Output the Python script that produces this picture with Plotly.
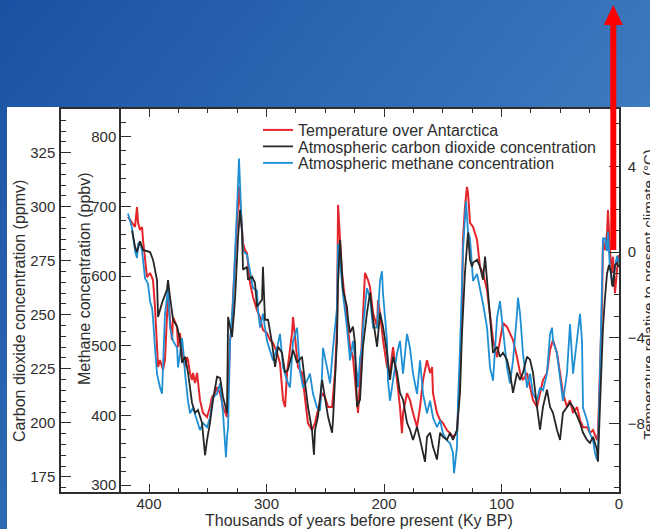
import base64
import plotly.graph_objects as go

# ---------------- data ----------------
temp_kyr = [417.9, 414.4, 411.9, 410.2, 409.3, 407.6, 405.9, 405.1, 403.4, 401.7, 399.1, 396.6, 394.9, 393.2,
            392.3, 390.6, 388.1, 386.4, 384.7, 383.8, 382.1, 380.4, 379.5, 376.1, 375.3, 373.6, 371.9, 369.3,
            367.6, 366.8, 365.1, 363.4, 362.5, 360.8, 359.1, 356.6, 354.0, 350.6, 348.1, 346.4, 343.8, 342.1,
            339.5, 337.0, 333.6, 331.0, 329.3, 328.5, 325.1, 324.2, 323.4, 321.7, 320.0, 318.3, 316.6, 314.0,
            311.5, 308.1, 305.5, 303.0, 299.6, 297.0, 294.4, 291.0, 288.5, 285.9, 284.2, 282.5, 280.0, 278.3,
            277.4, 275.7, 273.2, 269.8, 267.2, 264.7, 261.3, 258.7, 256.2, 252.7, 250.2, 247.6, 244.2, 241.7,
            240.0, 239.1, 237.4, 235.7, 233.2, 231.5, 228.9, 226.4, 223.0, 222.1, 220.4, 217.9, 216.2, 213.6,
            211.9, 209.3, 205.9, 205.1, 203.4, 200.8, 197.4, 194.9, 192.3, 188.9, 186.4, 184.7, 183.8, 180.4,
            177.9, 175.3, 171.9, 169.3, 166.8, 163.4, 160.8, 159.1, 158.3, 154.9, 152.3, 149.8, 146.4, 143.8,
            141.3, 137.9, 135.3, 133.6, 132.8, 131.1, 129.4, 128.5, 126.8, 124.2, 120.8, 118.3, 115.7, 112.3,
            109.8, 107.2, 103.8, 101.3, 99.6, 98.7, 95.3, 92.8, 90.2, 86.8, 84.2, 81.7, 78.3, 75.7, 73.2, 69.8,
            67.2, 64.7, 61.3, 58.7, 56.2, 52.8, 50.2, 47.7, 44.3, 41.7, 39.1, 35.7, 33.2, 30.6, 27.2, 24.7,
            22.1, 18.7, 17.9, 16.2, 14.5, 13.6, 11.9, 10.2, 9.4, 7.7, 6.0, 5.1, 3.4, 1.7, 0.4]
temp_c = [1.64, 1.36, 1.17, 2.10, 1.36, 1.03, 1.17, 0.56, -0.23, -1.17, -0.98, -1.31, -2.57, -4.44,
          -5.37, -5.05, -5.51, -5.05, -2.85, -1.92, -3.18, -4.11, -3.04, -3.50, -4.44, -3.79, -4.72, -5.37,
          -4.91, -5.05, -5.65, -5.98, -5.65, -6.12, -5.65, -6.92, -7.52, -7.71, -7.24, -6.78, -6.59, -6.31,
          -6.59, -7.24, -7.71, -4.11, -3.50, -2.10, 1.36, 2.57, 3.04, 1.82, 0.42, 0.09, -0.05, -1.45,
          -2.10, -2.71, -3.04, -3.64, -3.79, -4.11, -4.25, -4.72, -5.19, -6.92, -7.24, -5.65, -4.44, -3.79,
          -3.04, -4.11, -5.37, -5.65, -6.92, -7.99, -8.32, -7.99, -7.38, -6.59, -6.78, -7.24, -7.24, -5.65,
          -3.50, 2.20, 0.56, -0.98, -2.24, -3.18, -4.44, -4.91, -6.92, -7.52, -5.98, -2.57, -0.98, -1.31,
          -1.64, -2.85, -3.50, -2.24, -2.85, -4.11, -5.37, -5.65, -4.44, -5.98, -7.24, -8.46, -7.52, -6.59,
          -6.92, -7.52, -8.18, -7.24, -5.98, -5.05, -5.65, -5.37, -6.59, -7.52, -7.85, -7.99, -8.32, -8.46,
          -8.64, -8.46, -5.65, -2.57, 0.56, 2.10, 3.04, 2.76, 1.36, 1.17, 0.56, -0.70, -0.98, -1.78,
          -2.85, -4.11, -4.91, -4.11, -3.50, -3.32, -3.50, -3.79, -4.11, -4.91, -5.65, -5.98, -5.65, -6.31, -6.92, -7.24,
          -6.59, -5.98, -5.65, -4.58, -4.11, -4.72, -5.65, -6.59, -7.24, -6.92, -7.52, -7.24, -7.85, -8.18, -8.18, -8.46,
          -8.32, -8.79, -8.46, -5.65, -2.57, 0.56, 0.09, 0.89, 1.96, 0.09, -0.98, -0.23, -1.92, -0.84, -0.14]

co2_kyr = [414.4, 411.9, 410.2, 407.6, 405.1, 399.1, 396.6, 393.2, 392.3, 388.9, 384.7, 383.8, 382.1, 379.5,
           376.1, 373.6, 371.9, 369.3, 366.8, 363.4, 360.8, 358.3, 354.9, 352.3, 350.6, 348.1, 345.5, 342.1,
           339.5, 337.0, 333.6, 332.7, 329.3, 326.8, 324.2, 322.5, 320.8, 320.0, 316.6, 315.7, 312.3, 309.8,
           308.1, 303.8, 303.0, 301.3, 298.7, 295.3, 292.7, 290.2, 286.8, 284.2, 281.7, 277.4, 274.0, 269.8,
           267.2, 264.7, 261.3, 259.6, 258.7, 256.2, 252.7, 250.2, 247.6, 244.2, 243.4, 240.0, 239.1, 237.4,
           234.9, 231.5, 230.6, 228.9, 226.4, 224.7, 223.0, 220.4, 217.9, 214.5, 211.9, 209.3, 205.9, 203.4,
           200.8, 197.4, 194.9, 192.3, 188.9, 186.4, 183.8, 180.4, 177.9, 175.3, 171.9, 169.3, 166.8, 165.1,
           163.4, 160.8, 158.3, 154.9, 152.3, 149.8, 146.4, 143.8, 141.3, 137.9, 135.3, 133.6, 131.1, 129.4,
           128.5, 126.8, 125.1, 124.2, 120.8, 118.3, 115.7, 114.0, 112.3, 111.5, 109.8, 108.1, 107.2, 103.8,
           101.3, 98.7, 95.3, 92.8, 90.2, 86.8, 84.2, 81.7, 78.3, 75.7, 73.2, 69.8, 67.2, 64.7, 61.3, 58.7,
           56.2, 52.8, 50.2, 47.7, 44.3, 41.7, 39.1, 35.7, 33.2, 30.6, 27.2, 24.7, 22.1, 18.7, 17.9, 16.2,
           14.5, 13.6, 11.9, 10.2, 8.5, 6.8, 6.0, 5.1, 3.4, 1.7, 0.4]
co2_ppmv = [289, 281.5, 279, 284, 280, 279, 275.5, 266, 249, 255.5, 261.6, 266, 258, 247.7,
            244.5, 238.4, 227.8, 230.6, 223.2, 209.3, 204.6, 206, 200, 185, 192, 200, 210.7, 221.3,
            220.8, 212, 204.6, 249, 239.8, 257, 286, 298.6, 288, 270.8, 272.2, 266.2, 267.6, 264.8,
            253.7, 257, 272.2, 247.7, 247.7, 237, 225.9, 235.2, 232.4, 223.2, 224.5, 233.8, 227.8, 230.6,
            218.5, 207.4, 196.8, 185.2, 196.8, 202.8, 219.9, 210.7, 202.8, 195.4, 201.4, 238.4, 264.8, 284.7,
            261.6, 253.7, 247.7, 241.7, 244.5, 237, 207.4, 210.7, 235.2, 250.9, 260.2, 247.7, 235.2, 250.9,
            244.5, 232.4, 219.9, 230.6, 223.2, 213.9, 210.7, 200, 196.8, 192.1, 198.2, 192.1, 186.1, 182,
            193.5, 195.4, 188.9, 183, 195.4, 193.5, 192.1, 195.4, 192.1, 196.8, 213.9, 241.7, 269.5, 284.7,
            288, 275.5, 272.2, 274.1, 275.5, 272.2, 266.2, 276.9, 266.2, 263, 250.9, 238.4, 232.4, 235.2,
            230.6, 232.4, 229.2, 223.2, 213.9, 223.2, 219.9, 223.2, 230.6, 229.2, 223.2, 207.4, 196.8, 207.4, 215.3, 207.4,
            204.6, 196.8, 192.1, 204.6, 207.4, 209.3, 207.4, 202.8, 200, 195.4, 192.1, 190.7, 193.5, 187.5, 182, 207.4,
            230.6, 244.5, 258, 269, 273, 270, 264, 263, 273, 274, 272]

ch4_kyr = [417.9, 414.4, 411.9, 410.2, 409.3, 407.6, 405.9, 403.4, 400.8, 399.1, 397.4, 396.6, 394.9, 393.2,
           390.6, 388.9, 388.1, 386.4, 384.7, 383.8, 382.1, 379.5, 376.1, 375.3, 373.6, 371.9, 371.0, 369.3,
           366.8, 365.1, 362.5, 359.1, 356.6, 354.0, 350.6, 348.1, 345.5, 342.1, 339.5, 337.0, 334.5, 333.6,
           332.7, 331.0, 328.5, 325.1, 323.4, 321.7, 320.0, 316.6, 314.0, 311.5, 308.1, 307.2, 305.5, 303.0,
           299.6, 297.0, 294.4, 291.0, 288.5, 285.9, 282.5, 280.0, 277.4, 274.0, 271.5, 268.9, 265.5, 263.0,
           260.4, 257.0, 254.4, 252.7, 251.9, 248.5, 245.9, 243.4, 240.0, 239.1, 237.4, 234.9, 231.5, 228.9,
           226.4, 223.0, 222.1, 220.4, 218.7, 217.9, 214.5, 211.9, 209.3, 205.9, 203.4, 201.7, 200.8, 197.4,
           196.6, 194.9, 192.3, 188.9, 186.4, 183.8, 180.4, 177.9, 175.3, 171.9, 169.3, 166.8, 163.4, 160.8,
           158.3, 154.9, 152.3, 149.8, 146.4, 143.8, 141.3, 140.4, 137.9, 137.0, 135.3, 133.6, 132.8, 130.2,
           128.5, 126.8, 124.2, 120.8, 118.3, 115.7, 112.3, 109.8, 107.2, 105.5, 103.8, 101.3, 98.7, 95.3,
           92.8, 90.2, 86.8, 86.0, 84.2, 81.7, 78.3, 75.7, 73.2, 69.8, 67.2, 64.7, 61.3, 58.7, 57.0, 56.2,
           52.8, 50.2, 47.7, 44.3, 41.7, 39.1, 35.7, 33.2, 31.5, 30.6, 27.2, 24.7, 22.1, 20.4, 18.7, 17.9,
           16.2, 14.5, 13.6, 11.9, 10.2, 9.4, 7.7, 6.0, 5.1, 3.4, 1.7, 0.4]
ch4_ppbv = [690, 669, 636, 626, 646, 650, 636, 597, 589, 564, 554, 540, 497, 460,
            440, 431, 469, 546, 569, 583, 526, 507, 497, 469, 489, 511, 497, 460,
            421, 403, 411, 393, 379, 389, 383, 397, 426, 431, 446, 403, 340, 369,
            383, 507, 564, 697, 769, 697, 636, 631, 603, 583, 579, 550, 526, 546,
            507, 493, 479, 497, 517, 469, 450, 440, 507, 526, 464, 440, 450, 460,
            431, 411, 407, 460, 497, 469, 446, 497, 554, 646, 621, 574, 526, 479,
            507, 460, 440, 483, 497, 526, 583, 569, 526, 526, 593, 607, 574, 507,
            450, 421, 450, 489, 507, 460, 517, 497, 460, 431, 479, 431, 403, 421,
            397, 383, 393, 374, 364, 360, 346, 317, 354, 421, 497, 579, 636, 707,
            664, 654, 593, 603, 583, 560, 526, 469, 450, 489, 540, 564, 526, 469,
            446, 479, 546, 569, 546, 489, 440, 460, 431, 421, 440, 436, 460, 517, 526, 507,
            489, 450, 421, 460, 531, 460, 507, 546, 507, 411, 393, 374, 364, 346, 336, 354,
            460, 574, 654, 654, 636, 664, 611, 593, 593, 614, 629, 619]

x_tick_vals = [0, 100, 200, 300, 400]
x_minor_vals = [25, 50, 75, 125, 150, 175, 225, 250, 275, 325, 350, 375]
ch4_tick_vals = [300, 400, 500, 600, 700, 800]
co2_tick_vals = [175, 200, 225, 250, 275, 300, 325]
temp_tick_vals = [-8, -4, 0, 4]

names = ["Temperature over Antarctica", "Atmospheric carbon dioxide concentration",
         "Atmospheric methane concentration"]
colors = ["#e3262b", "#262626", "#1f8fd4"]

# ---------------- layout geometry (pixels) ----------------
W, H = 650, 529
PL, PR, PT, PB = 61, 619, 109, 492


def fx(p):
    return (p - PL) / (PR - PL)


def fy(p):
    return (PB - p) / (PB - PT)


FONT = "Liberation Sans, Arial, Helvetica, sans-serif"
INK = "#2e2e2e"

fig = go.Figure()
fig.add_trace(go.Scatter(x=temp_kyr, y=temp_c, mode="lines", name=names[0],
                         line=dict(color=colors[0], width=2.0), xaxis="x", yaxis="y", legend="legend"))
fig.add_trace(go.Scatter(x=ch4_kyr, y=ch4_ppbv, mode="lines", name=names[2],
                         line=dict(color=colors[2], width=1.8), xaxis="x", yaxis="y2", legend="legend3"))
fig.add_trace(go.Scatter(x=co2_kyr, y=co2_ppmv, mode="lines", name=names[1],
                         line=dict(color=colors[1], width=1.8), xaxis="x", yaxis="y3", legend="legend2"))

# background: blue gradient with white panel
svg = ("<svg xmlns='http://www.w3.org/2000/svg' width='650' height='529'>"
       "<defs><linearGradient id='g' gradientUnits='userSpaceOnUse' x1='0' y1='0' x2='650' y2='529'>"
       "<stop offset='0' stop-color='#1a52a3'/><stop offset='1' stop-color='#4d8dcc'/></linearGradient></defs>"
       "<rect width='650' height='529' fill='url(#g)'/>"
       "<rect x='7' y='107' width='643' height='422' fill='#ffffff'/></svg>")
src = "data:image/svg+xml;base64," + base64.b64encode(svg.encode()).decode()
fig.add_layout_image(dict(source=src, xref="paper", yref="paper", x=fx(0), y=fy(0),
                          sizex=W / (PR - PL), sizey=H / (PB - PT), xanchor="left", yanchor="top",
                          sizing="stretch", layer="below"))

axis_common = dict(showline=True, linecolor=INK, linewidth=1.5, showgrid=False, zeroline=False,
                   ticks="inside", tickcolor=INK, tickwidth=1.3, tickfont=dict(size=15, color=INK))

fig.update_layout(
    width=W, height=H,
    margin=dict(l=PL, r=W - PR, t=PT, b=H - PB, autoexpand=False),
    paper_bgcolor="#ffffff", plot_bgcolor="rgba(0,0,0,0)",
    font=dict(family=FONT, color=INK, size=16),
    showlegend=True,
    xaxis=dict(range=[(PR - PL) / 1.175, 0], tickmode="array", tickvals=x_tick_vals, ticklen=8,
               mirror="ticks", anchor="y", ticklabelstandoff=-3,
               minor=dict(tickmode="array", tickvals=x_minor_vals, ticks="inside", ticklen=4,
                          tickcolor=INK, tickwidth=1.2),
               **axis_common),
    # temperature (right)
    yaxis=dict(range=[-11.21, 6.68], side="right", anchor="x", tickmode="array", tickvals=temp_tick_vals,
               ticklen=10, ticklabelstandoff=4,
               minor=dict(dtick=1, tick0=0, ticks="inside", ticklen=5, tickcolor=INK, tickwidth=1.2),
               **axis_common),
    # methane (inner left, free)
    yaxis2=dict(range=[290, 840], overlaying="y", side="left", anchor="free", position=fx(120),
                tickmode="array", tickvals=ch4_tick_vals, ticklen=10, ticklabelstandoff=0,
                minor=dict(dtick=20, tick0=0, ticks="inside", ticklen=5, tickcolor=INK, tickwidth=1.2),
                **axis_common),
    # carbon dioxide (outer left)
    yaxis3=dict(range=[168.0, 345.2], overlaying="y", side="left", anchor="x",
                tickmode="array", tickvals=co2_tick_vals, ticklen=10, ticklabelstandoff=1,
                minor=dict(dtick=5, tick0=0, ticks="inside", ticklen=5, tickcolor=INK, tickwidth=1.2),
                **axis_common),
)

leg_common = dict(xanchor="left", yanchor="middle", bgcolor="rgba(0,0,0,0)", borderwidth=0,
                  font=dict(size=16, color=INK, family=FONT))
fig.update_layout(
    legend=dict(x=fx(258), y=fy(130), **leg_common),
    legend2=dict(x=fx(258), y=fy(146.5), **leg_common),
    legend3=dict(x=fx(258), y=fy(163), **leg_common),
)

# axis titles
titles = [
    ("Thousands of years before present (Ky BP)", 358.5, 520, 0, 16),
    ("Carbon dioxide concentration (ppmv)", 19, 311, -90, 16),
    ("Methane concentration (ppbv)", 84.5, 278.5, -90, 16),
    ("Temperature relative to present climate (°C)", 647.5, 295, -90, 15),
]
for text, x, y, ang, size in titles:
    fig.add_annotation(text=text, x=fx(x), y=fy(y), xref="paper", yref="paper", showarrow=False,
                       textangle=ang, xanchor="center", yanchor="middle",
                       font=dict(size=size, color=INK, family=FONT))

# red arrow (modern rise marker)
fig.add_shape(type="rect", xref="paper", yref="paper", x0=fx(610.3), x1=fx(616.3), y0=fy(250), y1=fy(24),
              fillcolor="#ff0000", line=dict(width=0), layer="above")
fig.add_shape(type="path", xref="paper", yref="paper",
              path="M {:.5f},{:.5f} L {:.5f},{:.5f} L {:.5f},{:.5f} Z".format(
                  fx(603.8), fy(25), fx(613.3), fy(5), fx(622.8), fy(25)),
              fillcolor="#ff0000", line=dict(width=0), layer="above")

fig.write_html("out.html", config={"displayModeBar": False},
               post_script="document.body.style.margin='0';document.body.style.overflow='hidden';")
